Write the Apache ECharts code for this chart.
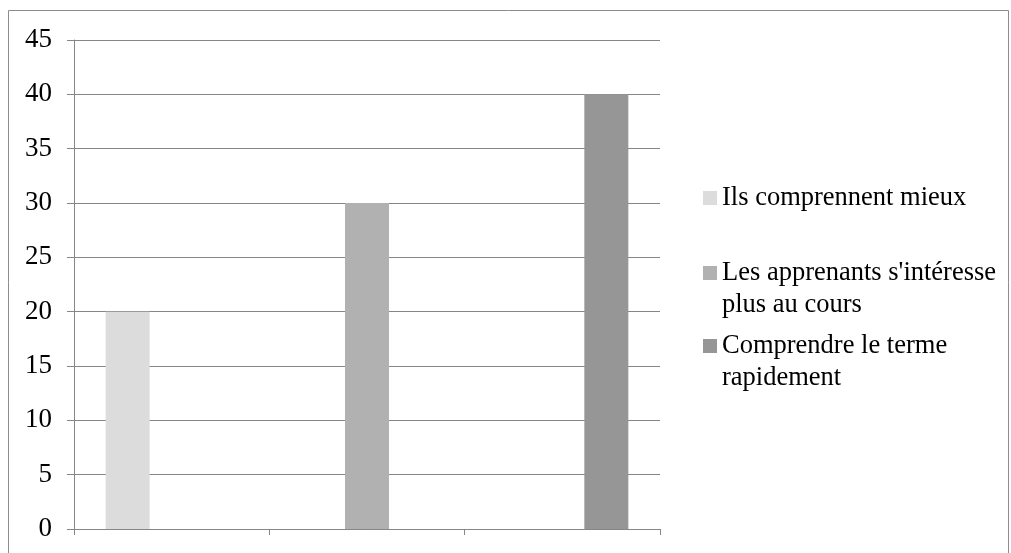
<!DOCTYPE html>
<html>
<head>
<meta charset="utf-8">
<script src="https://cdn.jsdelivr.net/npm/echarts@6/dist/echarts.min.js"></script>
<style>
  html, body { margin: 0; padding: 0; background: #fff; }
  #chart { width: 1011px; height: 553px; }
</style>
</head>
<body>
<div id="chart"></div>
<script>
const categories = ['A', 'B', 'C']
const seriesNames = [
  'Ils comprennent mieux',
  "Les apprenants s'intéresse plus au cours",
  'Comprendre le terme rapidement',
]
// legend wording as it is wrapped in the picture
const legendLines = [
  ['Ils comprennent mieux'],
  ["Les apprenants s'intéresse", 'plus au cours'],
  ['Comprendre le terme', 'rapidement'],
]
const values1 = [20, '-', '-']
const values2 = ['-', 30, '-']
const values3 = ['-', '-', 40]
const yTicks = { min: 0, max: 45, step: 5 }

const colors = ['#dcdcdc', '#b1b1b1', '#969696']
const axisGray = '#868686'
const serif = '"Liberation Serif", "Times New Roman", serif'

const chart = echarts.init(document.getElementById('chart'))

const makeLegend = (i, top) => ({
  orient: 'vertical',
  left: 698,
  top: top,
  data: [seriesNames[i]],
  icon: 'rect',
  itemWidth: 14,
  itemHeight: 14,
  selectedMode: false,
  formatter: () => {
    const lines = legendLines[i]
    // blank first line keeps the square level with the first text line
    return lines.length > 1 ? '\n' + lines.join('\n') : lines[0]
  },
  textStyle: {
    fontFamily: serif,
    fontSize: 26.5,
    lineHeight: 32,
    color: '#000',
  },
})

const option = {
  backgroundColor: '#fff',
  animation: false,
  color: colors,
  grid: {
    left: 74,
    right: 351,
    top: 40,
    bottom: 24,
  },
  graphic: [
    {
      type: 'rect',
      shape: { x: 8.5, y: 10.5, width: 1000, height: 600 },
      style: { fill: 'none', stroke: '#8c8c8c', lineWidth: 1 },
      silent: true,
    },
  ],
  legend: [
    makeLegend(0, 177),
    makeLegend(1, 220),
    makeLegend(2, 293),
  ],
  xAxis: {
    type: 'category',
    data: categories,
    axisLine: { lineStyle: { color: axisGray, width: 1 } },
    axisTick: { show: true, length: 6, lineStyle: { color: axisGray } },
    axisLabel: { show: false },
    splitLine: { show: false },
  },
  yAxis: {
    type: 'value',
    min: yTicks.min,
    max: yTicks.max,
    interval: yTicks.step,
    axisLine: { show: true, lineStyle: { color: axisGray, width: 1 } },
    axisTick: { show: true, length: 7, lineStyle: { color: axisGray } },
    axisLabel: {
      margin: 22,
      fontFamily: serif,
      fontSize: 27,
      color: '#000',
    },
    splitLine: { show: true, lineStyle: { color: axisGray, width: 1 } },
  },
  series: [
    { name: seriesNames[0], type: 'bar', data: values1, barWidth: 44, barGap: '0%' },
    { name: seriesNames[1], type: 'bar', data: values2, barWidth: 44, barGap: '0%' },
    { name: seriesNames[2], type: 'bar', data: values3, barWidth: 44, barGap: '0%' },
  ],
}

chart.setOption(option)
</script>
</body>
</html>
